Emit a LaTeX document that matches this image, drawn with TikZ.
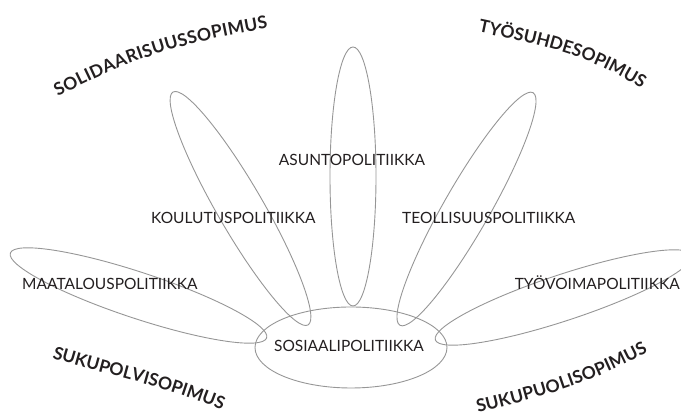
\documentclass[tikz,border=0pt]{standalone}
\usepackage{fontspec}
\setmainfont{Lato}
\usetikzlibrary{decorations.text}
\definecolor{petalgray}{RGB}{150,150,150}
\definecolor{txt}{RGB}{35,31,32}
\newcommand\arcfont{\fontsize{17.5}{20}\selectfont\bfseries}
\begin{document}
\begin{tikzpicture}[x=1pt,y=1pt,
  petal/.style={draw=petalgray, line width=0.9pt},
  lbl/.style={font=\fontsize{15.5}{18}\selectfont, text=txt, inner sep=0pt},
  arclbl/.style={decorate, decoration={text along path, text align=fit to path,
     text color=txt, text={|\arcfont|#1}}}]
\useasboundingbox (0,0) rectangle (681,419);
\begin{scope}
\clip (0,0) rectangle (681,419);
% petals
\draw[petal, rotate around={-18.3:(138.5,123.5)}] (138.5,123.5) ellipse [x radius=135, y radius=23];
\draw[petal, rotate around={120.1:(240.5,210.5)}] (240.5,210.5) ellipse [x radius=134.6, y radius=23];
\draw[petal, rotate around={90:(353,242.5)}] (353,242.5) ellipse [x radius=129.5, y radius=23];
\draw[petal, rotate around={60.2:(466.5,210)}] (466.5,210) ellipse [x radius=134, y radius=23];
\draw[petal, rotate around={18.3:(563.5,121.5)}] (563.5,121.5) ellipse [x radius=135, y radius=23];
% centre
\draw[petal] (351,71.5) ellipse [x radius=96, y radius=40.5];
\end{scope}
% labels
\node[lbl, anchor=base] (asunto) at (352,253) {ASUNTOPOLITIIKKA};
\node[lbl, anchor=base west] (koulutus) at (151,195) {KOULUTUSPOLITIIKKA};
\node[lbl, anchor=base west] (teollisuus) at (402,195) {TEOLLISUUSPOLITIIKKA};
\node[lbl, anchor=base west] (maatalous) at (22,129) {MAATALOUSPOLITIIKKA};
\node[lbl, anchor=base east] (tyovoima) at (680,129) {TYÖVOIMAPOLITIIKKA};
\node[lbl, anchor=base] (sosiaali) at (349,67) {SOSIAALIPOLITIIKKA};
% curved titles
\path[arclbl={SOLIDAARISUUSSOPIMUS}] (58,322) to[out=28,in=190] (268,391);
\path[arclbl={TYÖSUHDESOPIMUS}] (478,387) to[out=-12,in=148] (640,331);
\path[arclbl={SUKUPOLVISOPIMUS}] (52,61) to[out=-17,in=158] (222,9);
\path[arclbl={SUKUPUOLISOPIMUS}] (478,6) to[out=14,in=208] (648,67);
\end{tikzpicture}
\end{document}
